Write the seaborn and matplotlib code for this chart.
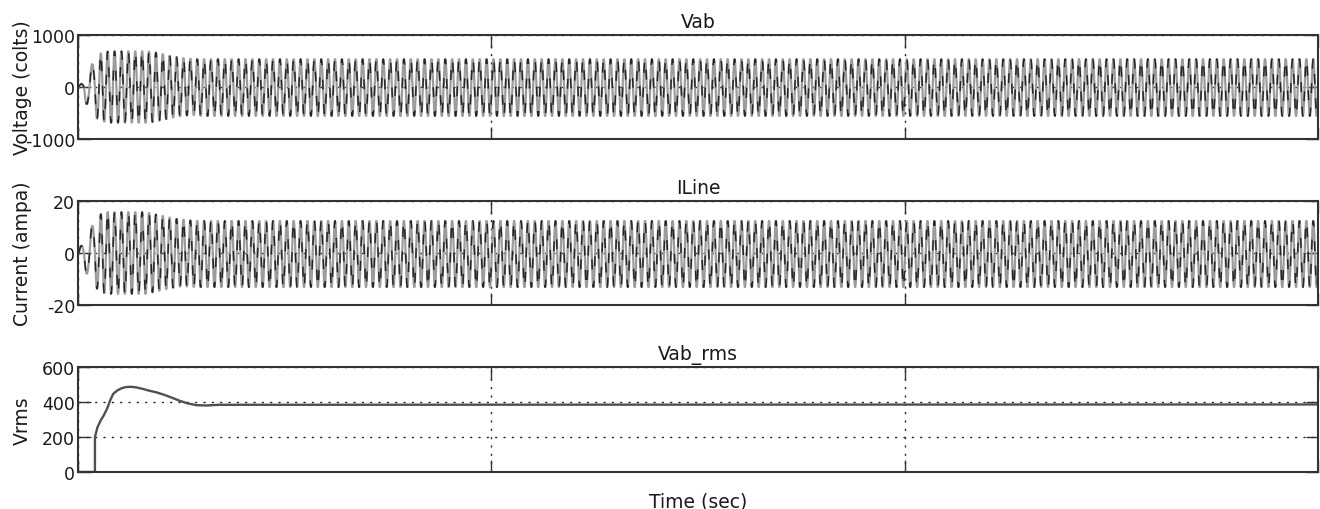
import numpy as np
import pandas as pd
import matplotlib
matplotlib.use("Agg")
import matplotlib.pyplot as plt
import seaborn as sns

# ---------------- data ----------------
T_END = 3.0
LINE_FREQ_HZ = 60
t_first_zero = 0.002
start_half_durations = [0.0125, 0.0135, 0.013, 0.010]

# signed half-cycle peaks during the start-up transient
vab_peaks_transient = [60, -330, 440, -610, 650, -670, 685, -690, 690, -690,
                       690, -690, 690, -690, 690, -690, 690, -690, 685, -675,
                       665, -650, 635, -620, 605, -590, 578, -566, 557, -550,
                       546, -543]
vab_peaks_steady = [538, -560]

iline_peaks_transient = [2.8, -8, 10.5, -13.8, 15, -15.5, 15.8, -15.8, 15.8, -15.8,
                         15.8, -15.8, 15.8, -15.8, 15.8, -15.8, 15.8, -15.8, 15.5, -15.2,
                         14.9, -14.6, 14.3, -14.0, 13.7, -13.4, 13.2, -13.0, 12.85, -12.9,
                         12.6, -13.1]
iline_peaks_steady = [12.4, -13.2]

rms_t = [0.0, 0.041, 0.041, 0.047, 0.055, 0.062, 0.070, 0.078, 0.085, 0.095,
         0.105, 0.115, 0.126, 0.140, 0.155, 0.170, 0.190, 0.210, 0.230, 0.246,
         0.265, 0.287, 0.310, 0.340, 3.0]
rms_v = [0, 0, 200, 255, 295, 322, 360, 410, 446, 466,
         478, 485, 487, 484, 476, 466, 455, 440, 422, 407,
         392, 382, 380, 384, 386]

titles = ["Vab", "ILine", "Vab_rms"]
ylabels = ["Voltage (colts)", "Current (ampa)", "Vrms"]
yticks = [[-1000, 0, 1000], [-20, 0, 20], [0, 200, 400, 600]]
ylims = [(-1000, 1000), (-20, 20), (0, 600)]
xticks = [0, 1, 2, 3]
xlabel = "Time (sec)"


def half_cycle_edges():
    edges = [t_first_zero]
    for d in start_half_durations:
        edges.append(edges[-1] + d)
    half = 1.0 / (2 * LINE_FREQ_HZ)
    while edges[-1] < T_END:
        edges.append(edges[-1] + half)
    return np.array(edges)


def waveform(transient, steady):
    edges = half_cycle_edges()
    n = len(edges) - 1
    peaks = list(transient)
    k = 0
    while len(peaks) < n:
        peaks.append(steady[k % 2])
        k += 1
    ts = [0.0]
    ys = [0.0]
    for i in range(n):
        s = np.linspace(0, 1, 14)[:-1]
        ts.extend(edges[i] + s * (edges[i + 1] - edges[i]))
        ys.extend(peaks[i] * np.sin(np.pi * s))
    ts = np.array(ts)
    ys = np.array(ys)
    m = ts <= T_END
    return pd.DataFrame({"t": ts[m], "y": ys[m]})


sns.set_theme(style="white")
plt.rcParams["font.family"] = ["DejaVu Sans"]

W, H = 1320, 510
fig = plt.figure(figsize=(W / 100, H / 100), dpi=100)
left = 78 / W
width = (1318 - 78) / W
boxes = [(36, 140), (202, 306), (368, 473)]
axes = []
for top, bot in boxes:
    axes.append(fig.add_axes([left, 1 - bot / H, width, (bot - top) / H]))

wave_frames = [waveform(vab_peaks_transient, vab_peaks_steady),
               waveform(iline_peaks_transient, iline_peaks_steady)]

dark = "#333333"
grid_style = (0, (1.5, 4.5))

for i, ax in enumerate(axes):
    if i < 2:
        df = wave_frames[i]
        sns.lineplot(data=df, x="t", y="y", ax=ax, color="#9c9c9c", lw=1.6,
                     estimator=None, sort=False)
        sns.lineplot(data=df, x="t", y="y", ax=ax, color="#262626", lw=1.1,
                     estimator=None, sort=False, linestyle=(0, (6.5, 9.5)))
    else:
        df = pd.DataFrame({"t": rms_t, "y": rms_v})
        sns.lineplot(data=df, x="t", y="y", ax=ax, color="#505050", lw=1.7,
                     estimator=None, sort=False)
    ax.set_xlim(0, T_END)
    ax.set_ylim(*ylims[i])
    ax.set_xticks(xticks)
    ax.set_xticklabels([])
    ax.set_yticks(yticks[i])
    ax.set_yticklabels([str(v) for v in yticks[i]])
    ax.tick_params(axis="both", direction="in", length=9, width=1.0, color=dark,
                   top=True, right=True, bottom=True, left=True,
                   labelsize=12.5, pad=2, labelcolor="#1a1a1a")
    ax.grid(True, color="#222222", linestyle=grid_style, linewidth=1.0)
    for sp in ax.spines.values():
        sp.set_color(dark)
        sp.set_linewidth(1.5)
        sp.set_visible(True)
    ax.set_title(titles[i], fontsize=13.5, pad=6, color="#1a1a1a")
    ax.set_ylabel(ylabels[i], fontsize=13.5, color="#1a1a1a")
    ax.yaxis.set_label_coords(-0.037, 0.5)
    ax.set_xlabel("")

axes[2].set_xlabel(xlabel, fontsize=13.5, labelpad=12, color="#1a1a1a")

fig.savefig("out.png", dpi=100)
